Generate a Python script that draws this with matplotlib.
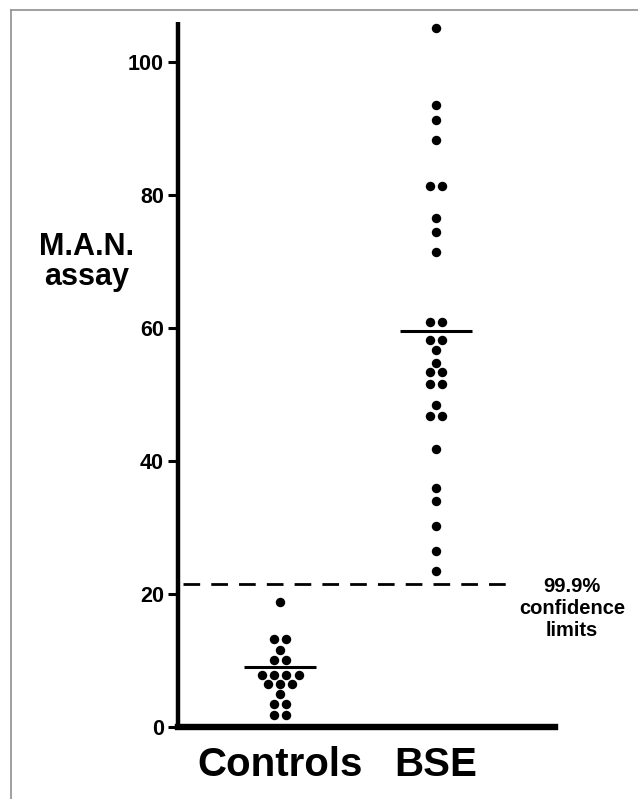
import matplotlib
matplotlib.use("Agg")
import matplotlib.pyplot as plt
from matplotlib.lines import Line2D
import numpy as np

plt.rcParams['font.family'] = ['Liberation Sans', 'DejaVu Sans']
plt.rcParams['font.weight'] = 'bold'

# M.A.N. assay values
controls = [18.8, 13.2, 13.2, 11.6, 10.1, 10.1, 7.8, 7.8, 7.8, 7.8,
            6.4, 6.4, 6.4, 4.9, 3.5, 3.5, 1.8, 1.8]
bse = [105.1, 93.5, 91.3, 88.3, 81.4, 81.4, 76.6, 74.4, 71.4,
       60.9, 60.9, 58.2, 58.2, 56.7, 54.7, 53.3, 53.3, 51.6, 51.6,
       48.4, 46.8, 46.8, 41.8, 36.0, 34.0, 30.2, 26.4, 23.4]
groups = ["Controls", "BSE"]
means = [9.0, 59.6]
cutoff = 21.5
yticks = [0, 20, 40, 60, 80, 100]
cutoff_label = ["99.9%", "confidence", "limits"]

fig = plt.figure(figsize=(6.38, 7.99), dpi=100)
ax = fig.add_axes([0.279, 0.0901, 0.591, 0.8824])

step = 0.079
for pos, vals in zip([1, 2], [controls, bse]):
    vals = np.array(vals)
    for v in np.unique(vals):
        n = np.sum(vals == v)
        xs = pos + (np.arange(n) - (n - 1) / 2) * step
        ax.plot(xs, [v] * n, 'o', color='black', markersize=6.8, markeredgewidth=0)

for pos, m in zip([1, 2], means):
    ax.plot([pos - 0.23, pos + 0.23], [m, m], color='black', lw=2.2, solid_capstyle='butt')

ax.plot([0.378, 2.506], [cutoff, cutoff], color='black', lw=2.0, dashes=(6, 4))

ax.set_xlim(0.346, 2.763)
ax.set_ylim(0, 106)
ax.set_yticks(yticks)
ax.set_xticks([1, 2])
ax.set_xticklabels(groups, fontsize=29, fontweight='bold')
ax.tick_params(axis='x', length=0, pad=14)
ax.tick_params(axis='y', length=7, width=2.2, pad=3, labelsize=15.5)
for lab in ax.get_yticklabels():
    lab.set_fontweight('bold')

for s in ['top', 'right']:
    ax.spines[s].set_visible(False)
ax.spines['left'].set_linewidth(3.2)
ax.spines['bottom'].set_linewidth(4.6)
ax.spines['left'].set_capstyle('butt')

fig.text(0.135, 1 - 255 / 799, "M.A.N.", fontsize=22, fontweight='bold', ha='center', va='baseline')
fig.text(0.135, 1 - 285 / 799, "assay", fontsize=22, fontweight='bold', ha='center', va='baseline')

for i, line in enumerate(cutoff_label):
    fig.text(572 / 638, 1 - (592 + 22 * i) / 799, line, fontsize=14.5,
             fontweight='bold', ha='center', va='baseline')

# thin gray frame round the plate
fig.add_artist(Line2D([11 / 638, 11 / 638], [0, 1 - 10 / 799], color='#909090', lw=1.2))
fig.add_artist(Line2D([11 / 638, 1], [1 - 10 / 799, 1 - 10 / 799], color='#909090', lw=1.2))

fig.savefig("out.png", dpi=100)
